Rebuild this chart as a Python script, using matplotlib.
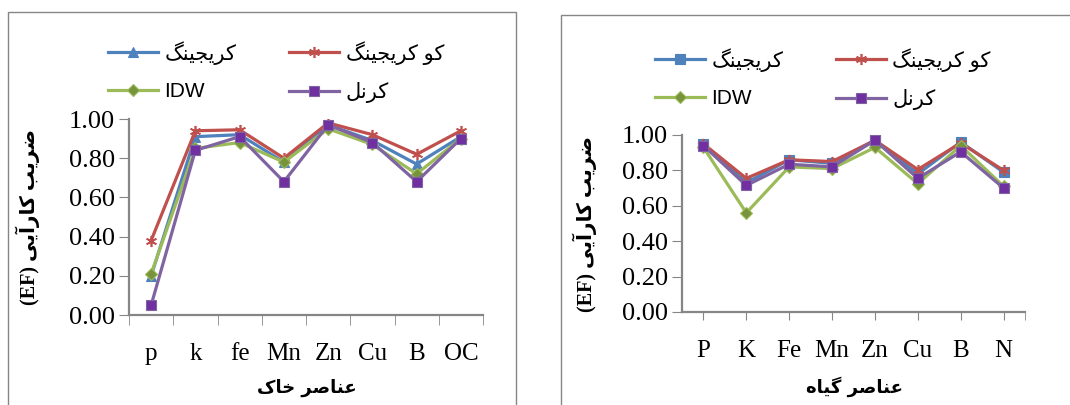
import matplotlib
matplotlib.use("Agg")
import matplotlib.pyplot as plt
from matplotlib.patches import Rectangle
import numpy as np

# soil elements (left chart)
soil_elements = ["p", "k", "fe", "Mn", "Zn", "Cu", "B", "OC"]
soil_kriging = [0.20, 0.91, 0.92, 0.78, 0.97, 0.89, 0.77, 0.91]
soil_cokriging = [0.38, 0.94, 0.945, 0.80, 0.98, 0.92, 0.82, 0.94]
soil_idw = [0.21, 0.85, 0.88, 0.78, 0.95, 0.87, 0.72, 0.90]
soil_kernel = [0.05, 0.84, 0.91, 0.68, 0.97, 0.88, 0.68, 0.90]

# plant elements (right chart)
plant_elements = ["P", "K", "Fe", "Mn", "Zn", "Cu", "B", "N"]
plant_kriging = [0.95, 0.73, 0.86, 0.84, 0.97, 0.78, 0.96, 0.79]
plant_cokriging = [0.95, 0.755, 0.86, 0.85, 0.97, 0.805, 0.955, 0.80]
plant_idw = [0.93, 0.56, 0.82, 0.81, 0.93, 0.725, 0.94, 0.71]
plant_kernel = [0.94, 0.715, 0.835, 0.82, 0.97, 0.755, 0.905, 0.70]

yticks = [0.0, 0.2, 0.4, 0.6, 0.8, 1.0]

# --- minimal persian shaping (matplotlib has no bidi / joining) ---
FORMS = {
    "ا": ("\uFE8D", "\uFE8E", "\uFE8D", "\uFE8E"),
    "آ": ("\uFE81", "\uFE82", "\uFE81", "\uFE82"),
    "ر": ("\uFEAD", "\uFEAE", "\uFEAD", "\uFEAE"),
    "و": ("\uFEED", "\uFEEE", "\uFEED", "\uFEEE"),
    "ب": ("\uFE8F", "\uFE90", "\uFE91", "\uFE92"),
    "ج": ("\uFE9D", "\uFE9E", "\uFE9F", "\uFEA0"),
    "خ": ("\uFEA5", "\uFEA6", "\uFEA7", "\uFEA8"),
    "ص": ("\uFEB9", "\uFEBA", "\uFEBB", "\uFEBC"),
    "ض": ("\uFEBD", "\uFEBE", "\uFEBF", "\uFEC0"),
    "ع": ("\uFEC9", "\uFECA", "\uFECB", "\uFECC"),
    "ل": ("\uFEDD", "\uFEDE", "\uFEDF", "\uFEE0"),
    "ن": ("\uFEE5", "\uFEE6", "\uFEE7", "\uFEE8"),
    "ه": ("\uFEE9", "\uFEEA", "\uFEEB", "\uFEEC"),
    "ک": ("\uFB8E", "\uFB8F", "\uFB90", "\uFB91"),
    "گ": ("\uFB92", "\uFB93", "\uFB94", "\uFB95"),
    "ی": ("\uFBFC", "\uFBFD", "\uFBFE", "\uFBFF"),
}
RIGHT_ONLY = set("اآرو")


def fa(s):
    if not any(c in FORMS for c in s):
        return s
    out = []
    for i, c in enumerate(s):
        if c not in FORMS:
            out.append(c)
            continue
        prev = s[i - 1] if i > 0 else ""
        nxt = s[i + 1] if i + 1 < len(s) else ""
        jp = prev in FORMS and prev not in RIGHT_ONLY
        jn = c not in RIGHT_ONLY and nxt in FORMS
        iso, fin, ini, med = FORMS[c]
        out.append(med if (jp and jn) else fin if jp else ini if jn else iso)
    return "".join(out)[::-1]


series_names = ["کریجینگ", "کو کریجینگ", "IDW", "کرنل"]
ylabel_fa = "ضریب کارآیی"
soil_xlabel = "عناصر خاک"
plant_xlabel = "عناصر گیاه"

blue = "#4F81BD"
red = "#C0504D"
green = "#9BBB59"
purple = "#8064A2"
axis_grey = "#868686"

serif = ["Liberation Serif", "DejaVu Serif"]
sans = ["Liberation Sans", "DejaVu Sans"]

fig = plt.figure(figsize=(10.7, 4.05), dpi=100)

# panel frames
fig.patches.append(Rectangle((8 / 1070, -0.05), 508 / 1070, (405 - 12) / 405 + 0.05,
                             transform=fig.transFigure, fill=False,
                             edgecolor=axis_grey, lw=1.0))
fig.patches.append(Rectangle((561 / 1070, -0.05), 0.6, (405 - 15) / 405 + 0.05,
                             transform=fig.transFigure, fill=False,
                             edgecolor=axis_grey, lw=1.0))


def draw_panel(rect, cats, data, markers, xlabel, xlab_pos, ylab_x, leg_anchor, centered):
    ax = fig.add_axes(rect)
    x = np.arange(len(cats))
    colors = [blue, red, green, purple]
    faces = [blue, red, "#77933C", "#7030A0"]
    handles = []
    for vals, mk, col, fc, name in zip(data, markers, colors, faces, series_names):
        if mk == "ast":
            h, = ax.plot(x, vals, color=col, lw=2.3, marker=(6, 2, 0), ms=8,
                         mec=col, mew=1.2, label=fa(name))
        else:
            ms = 7 if mk == "s" else 6.5
            h, = ax.plot(x, vals, color=col, lw=2.3, marker=mk, ms=ms,
                         mfc=fc, mec=col, mew=0.8, label=fa(name))
        handles.append(h)
    ax.set_xlim(-0.5, len(cats) - 0.5)
    ax.set_ylim(0, 1.0)
    ax.set_yticks(yticks)
    ax.set_yticklabels([f"{v:.2f}" for v in yticks], fontfamily=serif, fontsize=19)
    if centered:
        ax.set_xticks(x)
        ax.set_xticks([len(cats) - 0.5], minor=True)
        ax.tick_params(axis="x", which="major", length=6, pad=14)
        ax.tick_params(axis="x", which="minor", length=6, color=axis_grey)
    else:
        ax.set_xticks(x)
        ax.set_xticks(np.arange(-0.5, len(cats)), minor=True)
        ax.tick_params(axis="x", which="major", length=0, pad=20)
        ax.tick_params(axis="x", which="minor", length=7, color=axis_grey)
    ax.set_xticklabels(cats, fontfamily=serif, fontsize=18)
    ax.tick_params(axis="y", length=7, pad=3)
    ax.tick_params(axis="both", color=axis_grey, labelcolor="black")
    for side in ("top", "right"):
        ax.spines[side].set_visible(False)
    for side in ("left", "bottom"):
        ax.spines[side].set_color(axis_grey)
        ax.spines[side].set_linewidth(1.6)
    fig.text(xlab_pos[0], xlab_pos[1], fa(xlabel), ha="center", va="center",
             fontsize=13, fontweight="bold", family=["DejaVu Sans"])
    ymid = rect[1] + rect[3] / 2
    fig.text(ylab_x, ymid, "(EF) " + fa(ylabel_fa), rotation=90, ha="center",
             va="center", fontsize=14.5, fontweight="bold", family=serif + ["DejaVu Sans"])
    order = [0, 2, 1, 3]
    fig.legend([handles[i] for i in order], [handles[i].get_label() for i in order],
               ncol=2, loc="center left", bbox_to_anchor=leg_anchor,
               bbox_transform=fig.transFigure, frameon=False,
               prop={"family": sans, "size": 15}, handlelength=2.4,
               handletextpad=0.3, columnspacing=2.55, labelspacing=0.85,
               borderpad=0, borderaxespad=0)
    return ax


draw_panel([129 / 1070, 90 / 405, 354 / 1070, 196 / 405], soil_elements,
           [soil_kriging, soil_cokriging, soil_idw, soil_kernel],
           ["^", "ast", "D", "s"], soil_xlabel, (307 / 1070, 1 - 388 / 405),
           28 / 1070, (108 / 1070, 1 - 72 / 405), centered=False)

draw_panel([682 / 1070, 93 / 405, 343 / 1070, 177 / 405], plant_elements,
           [plant_kriging, plant_cokriging, plant_idw, plant_kernel],
           ["s", "ast", "D", "s"], plant_xlabel, (854 / 1070, 1 - 387 / 405),
           585 / 1070, (655 / 1070, 1 - 79 / 405), centered=True)

fig.savefig("out.png", dpi=100)
